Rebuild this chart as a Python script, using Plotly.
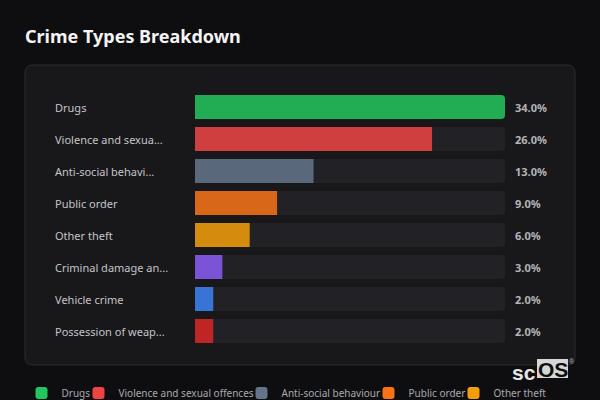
import plotly.graph_objects as go

# ---- data ----
categories = [
    "Drugs",
    "Violence and sexual offences",
    "Anti-social behaviour",
    "Public order",
    "Other theft",
    "Criminal damage and arson",
    "Vehicle crime",
    "Possession of weapons",
]
percentages = [34.0, 26.0, 13.0, 9.0, 6.0, 3.0, 2.0, 2.0]
colors = ["#22c55e", "#ef4444", "#64748b", "#f97316",
          "#f59e0b", "#8b5cf6", "#3b82f6", "#dc2626"]
title_text = "Crime Types Breakdown"

# ---- layout geometry (pixels) ----
W, H = 600, 400
L, R, T, B = 195, 95, 91, 53
PW, PH = W - L - R, H - T - B

# legend swatch centres (px) for the wrapped, centred legend rows
legend_swatch_x = [49.5, 106.5, 269.5, 396.5, 481.5, 115, 270, 365]
legend_row_y = [393, 393, 393, 393, 393, 430, 430, 430]


def px(x):
    return (x - L) / PW


def py(y):
    return (H - B - y) / PH


def short(s, n=18):
    return s if len(s) <= n else s[:n] + "..."


FONT = "Noto Sans, Open Sans, sans-serif"
BG = "#0e0e11"
max_v = max(percentages)

fig = go.Figure()

# background tracks
fig.add_trace(go.Bar(
    y=categories, x=[max_v] * len(categories), orientation="h",
    marker=dict(color="#222226", line=dict(width=0)),
    showlegend=False, hoverinfo="skip",
))
# value bars
for c, v, col in zip(categories, percentages, colors):
    fig.add_trace(go.Bar(
        y=[c], x=[v], orientation="h", name=c,
        marker=dict(color=col, opacity=0.85, line=dict(width=0)),
        showlegend=False,
    ))

# legend entries (full colour), one small legend per entry
legend_layouts = {}
for i, (c, col) in enumerate(zip(categories, colors)):
    key = "legend" if i == 0 else f"legend{i + 1}"
    fig.add_trace(go.Bar(
        y=[c], x=[0], orientation="h", name=c,
        marker=dict(color=col, line=dict(width=0)),
        showlegend=True, hoverinfo="skip", legend=key,
    ))
    legend_layouts[key] = dict(
        orientation="h", xref="paper", yref="paper",
        x=px(legend_swatch_x[i] - 28), xanchor="left",
        y=py(legend_row_y[i]), yanchor="middle",
        font=dict(family=FONT, size=10, color="#a8a8ae"),
        bgcolor="rgba(0,0,0,0)", borderwidth=0,
    )

annotations = []
for c, v in zip(categories, percentages):
    annotations.append(dict(
        xref="paper", x=0, xshift=-142, xanchor="left", yref="y", y=c,
        text=short(c), showarrow=False,
        font=dict(family=FONT, size=11, color="#c4c4c8"),
    ))
    annotations.append(dict(
        xref="paper", x=1, xshift=8, xanchor="left", yref="y", y=c,
        text=f"{v:.1f}%", showarrow=False,
        font=dict(family=FONT, size=11, color="#b4b4b8", weight=700),
    ))

# watermark
WM_FONT = "Liberation Sans, Arial"
annotations += [
    dict(xref="paper", yref="paper", x=px(538), y=py(372), xanchor="right",
         yanchor="middle", text="sc", showarrow=False,
         font=dict(family=WM_FONT, size=21, color="#e6e6e6", weight=700)),
    dict(xref="paper", yref="paper", x=px(552.5), y=py(369.5), xanchor="center",
         yanchor="middle", text="OS", showarrow=False,
         font=dict(family=WM_FONT, size=21, color="#0e0e11", weight=700)),
    dict(xref="paper", yref="paper", x=px(572), y=py(361), xanchor="center",
         yanchor="middle", text="®", showarrow=False,
         font=dict(family=WM_FONT, size=7, color="#bbbbbb")),
]

# card (rounded rectangle)
x0, x1, y0, y1, r = 25, 575, 65, 365, 8
rx, ry = r / PW, r / PH
X0, X1, Y0, Y1 = px(x0), px(x1), py(y0), py(y1)
card_path = (
    f"M{X0 + rx},{Y0} L{X1 - rx},{Y0} Q{X1},{Y0} {X1},{Y0 - ry} "
    f"L{X1},{Y1 + ry} Q{X1},{Y1} {X1 - rx},{Y1} "
    f"L{X0 + rx},{Y1} Q{X0},{Y1} {X0},{Y1 + ry} "
    f"L{X0},{Y0 - ry} Q{X0},{Y0} {X0 + rx},{Y0} Z"
)

shapes = [
    dict(type="path", xref="paper", yref="paper", path=card_path,
         fillcolor="#18181b", line=dict(color="#2c2c30", width=1), layer="below"),
    dict(type="rect", xref="paper", yref="paper",
         x0=px(537), x1=px(568), y0=py(378), y1=py(359),
         fillcolor="#d6d6d6", line=dict(width=0), layer="above"),
]

fig.update_layout(
    width=W, height=H,
    margin=dict(l=L, r=R, t=T, b=B, autoexpand=False),
    paper_bgcolor=BG, plot_bgcolor="rgba(0,0,0,0)",
    barmode="overlay", bargap=0.25, barcornerradius=4,
    font=dict(family=FONT, color="#c4c4c8"),
    title=dict(
        text=title_text, xref="container", x=25 / W, xanchor="left",
        yref="container", y=1 - 37 / H, yanchor="middle",
        font=dict(family=FONT, size=18, color="#f4f4f5", weight=700),
    ),
    xaxis=dict(range=[0, max_v], visible=False, fixedrange=True),
    yaxis=dict(autorange="reversed", showticklabels=False, showgrid=False,
               zeroline=False, fixedrange=True),
    shapes=shapes,
    annotations=annotations,
    showlegend=True,
    **legend_layouts,
)

fig.write_html(
    "out.html",
    config={"displayModeBar": False},
    post_script=(
        "document.body.style.margin='0';"
        f"document.body.style.background='{BG}';"
        "document.body.style.overflow='hidden';"
    ),
)
